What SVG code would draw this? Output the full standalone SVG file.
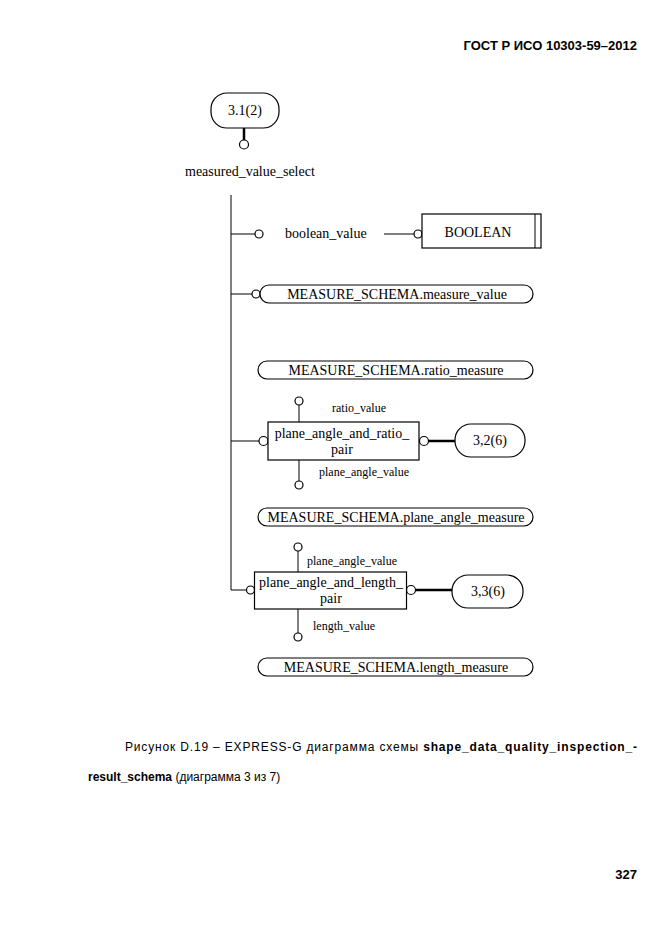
<svg xmlns="http://www.w3.org/2000/svg" width="661" height="935" viewBox="0 0 661 935">
<style>
.ln{stroke:#000;stroke-width:1;fill:none}
.tk{stroke:#000;stroke-width:2.5;fill:none}
.cr{stroke:#000;stroke-width:1.2;fill:#fff}
.bx{stroke:#000;stroke-width:1.2;fill:#fff}
.t{font-family:"Liberation Serif","Times New Roman",serif;font-size:14px;fill:#000}
.s{font-family:"Liberation Serif","Times New Roman",serif;font-size:12px;fill:#000}
.m{text-anchor:middle}
.a{font-family:"Liberation Sans",Arial,sans-serif;font-size:12px;fill:#000}
.b{font-weight:bold}
</style>
<rect width="661" height="935" fill="#fff"/>
<text class="a b" x="637" y="50" text-anchor="end" style="font-size:13px">ГОСТ Р ИСО 10303-59–2012</text>

<g id="connectors">
  <line class="tk" x1="244" y1="128" x2="244" y2="140"/>
  <circle class="cr" cx="244" cy="144.5" r="4.5"/>
  <polyline class="ln" points="231,195 231,590 247,590"/>
  <line class="ln" x1="231" y1="234" x2="255" y2="234"/>
  <circle class="cr" cx="259" cy="234" r="4"/>
  <line class="ln" x1="384" y1="234" x2="414" y2="234"/>
  <circle class="cr" cx="418" cy="234" r="4"/>
  <line class="ln" x1="231" y1="294" x2="252" y2="294"/>
  <circle class="cr" cx="256" cy="294" r="4"/>
  <line class="ln" x1="231" y1="441" x2="259" y2="441"/>
  <circle class="cr" cx="263.5" cy="441" r="4.5"/>
  <line class="ln" x1="299" y1="405" x2="299" y2="422"/>
  <circle class="cr" cx="299" cy="401" r="4"/>
  <line class="ln" x1="299" y1="460" x2="299" y2="481"/>
  <circle class="cr" cx="299" cy="485" r="4"/>
  <circle class="cr" cx="424" cy="441" r="4.5"/>
  <line class="tk" x1="428.5" y1="441" x2="455" y2="441"/>
  <circle class="cr" cx="250.5" cy="590" r="4"/>
  <line class="ln" x1="298" y1="551" x2="298" y2="572"/>
  <circle class="cr" cx="298" cy="547" r="4"/>
  <line class="ln" x1="298" y1="609" x2="298" y2="633"/>
  <circle class="cr" cx="298" cy="637" r="4"/>
  <circle class="cr" cx="411" cy="590" r="4.5"/>
  <line class="tk" x1="415.5" y1="590" x2="452" y2="590"/>
</g>

<g id="n_31_2">
  <rect class="bx" x="211" y="93" width="68" height="35" rx="16" ry="16"/>
  <text class="t m" x="245" y="115">3.1(2)</text>
</g>
<g id="n_measured_value_select">
  <text class="t" x="185" y="176">measured_value_select</text>
</g>
<g id="n_boolean_value">
  <text class="t" x="285" y="238">boolean_value</text>
</g>
<g id="n_boolean">
  <rect class="bx" x="422" y="214" width="119" height="34"/>
  <line class="ln" x1="535" y1="214" x2="535" y2="248"/>
  <text class="t m" x="478" y="237">BOOLEAN</text>
</g>
<g id="n_measure_value">
  <rect class="bx" x="260" y="285" width="273" height="18" rx="9" ry="9"/>
  <text class="t m" x="397" y="299">MEASURE_SCHEMA.measure_value</text>
</g>
<g id="n_ratio_measure">
  <rect class="bx" x="258" y="361" width="275" height="18" rx="9" ry="9"/>
  <text class="t m" x="396" y="375">MEASURE_SCHEMA.ratio_measure</text>
</g>
<g id="n_plane_angle_and_ratio_pair">
  <rect class="bx" x="268" y="422" width="151" height="38"/>
  <text class="t m" x="342" y="438">plane_angle_and_ratio_</text>
  <text class="t m" x="342" y="454">pair</text>
  <text class="s" x="332" y="412">ratio_value</text>
  <text class="s" x="319" y="476">plane_angle_value</text>
</g>
<g id="n_32_6">
  <rect class="bx" x="455" y="424" width="70" height="33" rx="16" ry="16"/>
  <text class="t m" x="490" y="445">3,2(6)</text>
</g>
<g id="n_plane_angle_measure">
  <rect class="bx" x="258" y="508" width="275" height="18" rx="9" ry="9"/>
  <text class="t m" x="396" y="522">MEASURE_SCHEMA.plane_angle_measure</text>
</g>
<g id="n_plane_angle_and_length_pair">
  <rect class="bx" x="254.5" y="572" width="152" height="37"/>
  <text class="t m" x="331" y="587">plane_angle_and_length_</text>
  <text class="t m" x="331" y="603">pair</text>
  <text class="s" x="307" y="565">plane_angle_value</text>
  <text class="s" x="313" y="630">length_value</text>
</g>
<g id="n_33_6">
  <rect class="bx" x="452" y="575" width="71" height="33" rx="16" ry="16"/>
  <text class="t m" x="488" y="596">3,3(6)</text>
</g>
<g id="n_length_measure">
  <rect class="bx" x="258" y="658" width="275" height="18" rx="9" ry="9"/>
  <text class="t m" x="396" y="672">MEASURE_SCHEMA.length_measure</text>
</g>

<text class="a" x="125" y="751" textLength="512" lengthAdjust="spacing">Рисунок D.19 – EXPRESS-G диаграмма схемы <tspan class="b">shape_data_quality_inspection_-</tspan></text>
<text class="a" x="88" y="781"><tspan class="b">result_schema</tspan> (диаграмма 3 из 7)</text>
<text class="a b" x="637" y="879" text-anchor="end" style="font-size:13px">327</text>
</svg>
